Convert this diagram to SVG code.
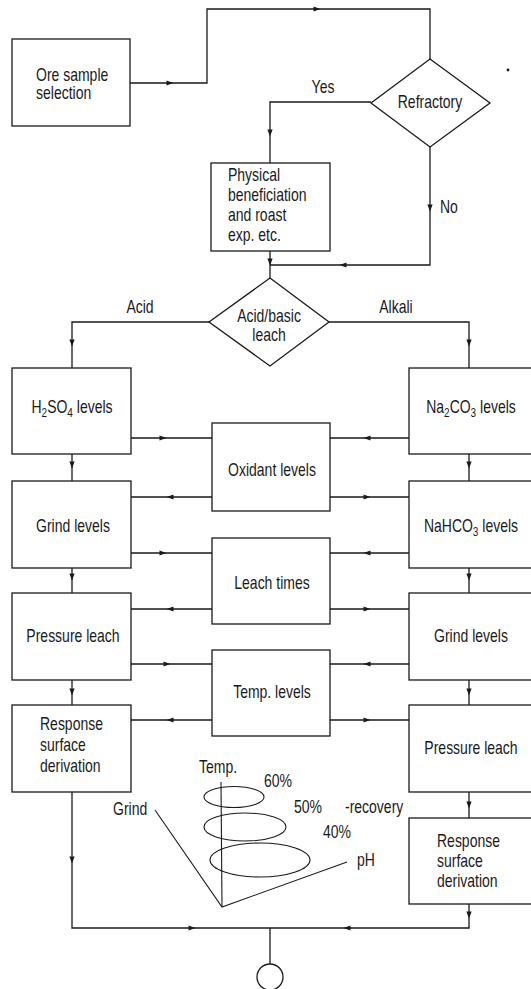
<svg xmlns="http://www.w3.org/2000/svg" xmlns:xlink="http://www.w3.org/1999/xlink" width="531" height="989" viewBox="0 0 531 989">
  <style>
    .box { fill: #fff; stroke: #1a1a1a; stroke-width: 1.3; }
    .ln { fill: none; stroke: #1a1a1a; stroke-width: 1.3; }
    .thin { fill: none; stroke: #1a1a1a; stroke-width: 1.1; }
    text { font-family: "Liberation Sans", Arial, sans-serif; font-size: 17.5px; fill: #1a1a1a; }
    .c { text-anchor: middle; }
    .sub { font-size: 12.5px; }
  </style>
  <defs>
    <!-- small filled arrowhead, pointing along +x -->
    <polygon id="ah" points="3.5,0 -3.5,-2.6 -3.5,2.6" fill="#1a1a1a"/>
  </defs>

  <rect width="531" height="989" fill="#fff"/>

  <!-- connectors (labels are set in a condensed face: scale .8 horizontally) -->
  <g id="connectors">
    <path class="ln" d="M130,83 H207 V9 H430 V59"/>
    <path class="ln" d="M371,102 H270 V163"/>
    <path class="ln" d="M430,147 V265 H270"/>
    <path class="ln" d="M270,251 V278"/>
    <path class="ln" d="M209,322 H72 V368"/>
    <path class="ln" d="M328,322 H469 V368"/>
    <path class="ln" d="M72,454 V481"/>
    <path class="ln" d="M469,454 V481"/>
    <path class="ln" d="M72,568 V593"/>
    <path class="ln" d="M469,568 V593"/>
    <path class="ln" d="M72,680 V705"/>
    <path class="ln" d="M469,680 V705"/>
    <path class="ln" d="M469,792 V818"/>
    <path class="ln" d="M72,792 V928 H469 V904"/>
    <path class="ln" d="M270,928 V964"/>
    <!-- cross links between the side columns and the centre boxes -->
    <path class="ln" d="M131,438 H212 M330,438 H409"/>
    <path class="ln" d="M131,497 H212 M330,497 H409"/>
    <path class="ln" d="M131,553 H212 M330,553 H409"/>
    <path class="ln" d="M131,609 H212 M330,609 H409"/>
    <path class="ln" d="M131,664 H212 M330,664 H409"/>
    <path class="ln" d="M131,720 H212 M330,720 H409"/>

    <!-- arrowheads -->
    <use xlink:href="#ah" transform="translate(170,83)"/>
    <use xlink:href="#ah" transform="translate(317,9)"/>
    <use xlink:href="#ah" transform="translate(270,133) rotate(90)"/>
    <use xlink:href="#ah" transform="translate(430,208) rotate(90)"/>
    <use xlink:href="#ah" transform="translate(343,265) rotate(180)"/>
    <use xlink:href="#ah" transform="translate(270,262) rotate(90)"/>
    <use xlink:href="#ah" transform="translate(72,343) rotate(90)"/>
    <use xlink:href="#ah" transform="translate(469,343) rotate(90)"/>
    <use xlink:href="#ah" transform="translate(72,465) rotate(90)"/>
    <use xlink:href="#ah" transform="translate(469,465) rotate(90)"/>
    <use xlink:href="#ah" transform="translate(72,577) rotate(90)"/>
    <use xlink:href="#ah" transform="translate(469,577) rotate(90)"/>
    <use xlink:href="#ah" transform="translate(72,692) rotate(90)"/>
    <use xlink:href="#ah" transform="translate(469,692) rotate(90)"/>
    <use xlink:href="#ah" transform="translate(469,805) rotate(90)"/>
    <use xlink:href="#ah" transform="translate(469,915) rotate(90)"/>
    <use xlink:href="#ah" transform="translate(72,860) rotate(90)"/>
    <use xlink:href="#ah" transform="translate(192,928)"/>
    <use xlink:href="#ah" transform="translate(347,928) rotate(180)"/>

    <use xlink:href="#ah" transform="translate(163,438)"/>
    <use xlink:href="#ah" transform="translate(367,438) rotate(180)"/>
    <use xlink:href="#ah" transform="translate(170,497) rotate(180)"/>
    <use xlink:href="#ah" transform="translate(367,497)"/>
    <use xlink:href="#ah" transform="translate(163,553)"/>
    <use xlink:href="#ah" transform="translate(367,553) rotate(180)"/>
    <use xlink:href="#ah" transform="translate(170,609) rotate(180)"/>
    <use xlink:href="#ah" transform="translate(367,609)"/>
    <use xlink:href="#ah" transform="translate(167,664)"/>
    <use xlink:href="#ah" transform="translate(367,664) rotate(180)"/>
    <use xlink:href="#ah" transform="translate(170,720) rotate(180)"/>
    <use xlink:href="#ah" transform="translate(367,720)"/>

    <text transform="translate(323,93) scale(.8,1)" class="c">Yes</text>
    <text transform="translate(440,213) scale(.8,1)">No</text>
    <text transform="translate(140,313) scale(.8,1)" class="c">Acid</text>
    <text transform="translate(396,313) scale(.8,1)" class="c">Alkali</text>
  </g>

  <g id="ore-sample">
    <rect class="box" x="12" y="39" width="118" height="87"/>
    <text transform="translate(36,81) scale(.8,1)">Ore sample</text>
    <text transform="translate(36,99) scale(.8,1)">selection</text>
  </g>

  <g id="refractory">
    <polygon class="box" points="430,59 490,103 430,147 371,103"/>
    <text transform="translate(430,108) scale(.8,1)" class="c">Refractory</text>
  </g>
  <circle cx="508" cy="70" r="1.4" fill="#1a1a1a"/>

  <g id="physical">
    <rect class="box" x="211" y="163" width="119" height="88"/>
    <text transform="translate(228,181) scale(.8,1)">Physical</text>
    <text transform="translate(228,201) scale(.8,1)">beneficiation</text>
    <text transform="translate(228,221) scale(.8,1)">and roast</text>
    <text transform="translate(228,241) scale(.8,1)">exp. etc.</text>
  </g>

  <g id="acid-basic">
    <polygon class="box" points="270,278 329,322 270,366 209,322"/>
    <text transform="translate(269,322) scale(.8,1)" class="c">Acid/basic</text>
    <text transform="translate(269,341) scale(.8,1)" class="c">leach</text>
  </g>

  <!-- acid column -->
  <g id="h2so4">
    <rect class="box" x="12" y="368" width="119" height="86"/>
    <text transform="translate(72,413) scale(.8,1)" class="c">H<tspan class="sub" dy="4">2</tspan><tspan dy="-4">SO</tspan><tspan class="sub" dy="4">4</tspan><tspan dy="-4"> levels</tspan></text>
  </g>
  <g id="grind-acid">
    <rect class="box" x="12" y="481" width="119" height="87"/>
    <text transform="translate(73,532) scale(.8,1)" class="c">Grind levels</text>
  </g>
  <g id="pressure-acid">
    <rect class="box" x="12" y="593" width="119" height="87"/>
    <text transform="translate(73,642) scale(.8,1)" class="c">Pressure leach</text>
  </g>
  <g id="response-acid">
    <rect class="box" x="12" y="705" width="119" height="87"/>
    <text transform="translate(40,730) scale(.8,1)">Response</text>
    <text transform="translate(40,751) scale(.8,1)">surface</text>
    <text transform="translate(40,772) scale(.8,1)">derivation</text>
  </g>

  <!-- centre column -->
  <g id="oxidant">
    <rect class="box" x="212" y="423" width="118" height="88"/>
    <text transform="translate(272,476) scale(.8,1)" class="c">Oxidant levels</text>
  </g>
  <g id="leach-times">
    <rect class="box" x="212" y="538" width="118" height="86"/>
    <text transform="translate(272,589) scale(.8,1)" class="c">Leach times</text>
  </g>
  <g id="temp-levels">
    <rect class="box" x="212" y="650" width="118" height="86"/>
    <text transform="translate(272,698) scale(.8,1)" class="c">Temp. levels</text>
  </g>

  <!-- alkali column -->
  <g id="na2co3">
    <rect class="box" x="409" y="368" width="130" height="86"/>
    <text transform="translate(471,413) scale(.8,1)" class="c">Na<tspan class="sub" dy="4">2</tspan><tspan dy="-4">CO</tspan><tspan class="sub" dy="4">3</tspan><tspan dy="-4"> levels</tspan></text>
  </g>
  <g id="nahco3">
    <rect class="box" x="409" y="481" width="130" height="87"/>
    <text transform="translate(471,532) scale(.8,1)" class="c">NaHCO<tspan class="sub" dy="4">3</tspan><tspan dy="-4"> levels</tspan></text>
  </g>
  <g id="grind-alkali">
    <rect class="box" x="409" y="593" width="130" height="87"/>
    <text transform="translate(471,642) scale(.8,1)" class="c">Grind levels</text>
  </g>
  <g id="pressure-alkali">
    <rect class="box" x="409" y="705" width="130" height="87"/>
    <text transform="translate(471,754) scale(.8,1)" class="c">Pressure leach</text>
  </g>
  <g id="response-alkali">
    <rect class="box" x="409" y="818" width="130" height="86"/>
    <text transform="translate(437,847) scale(.8,1)">Response</text>
    <text transform="translate(437,867) scale(.8,1)">surface</text>
    <text transform="translate(437,887) scale(.8,1)">derivation</text>
  </g>

  <g id="end">
    <circle class="box" cx="270" cy="977" r="13"/>
  </g>

  <!-- response surface sketch -->
  <g id="response-sketch">
    <path class="thin" d="M155,810 L222,907 L347,862"/>
    <path class="thin" d="M222,907 L221,782"/>
    <ellipse class="thin" cx="234" cy="797" rx="30" ry="10.5"/>
    <ellipse class="thin" cx="245" cy="827" rx="41" ry="14"/>
    <ellipse class="thin" cx="260" cy="860" rx="50" ry="17"/>
    <text transform="translate(199,773) scale(.8,1)">Temp.</text>
    <text transform="translate(264,787) scale(.8,1)">60%</text>
    <text transform="translate(113,815) scale(.8,1)">Grind</text>
    <text transform="translate(294,813) scale(.8,1)">50%</text>
    <text transform="translate(345,813) scale(.8,1)">-recovery</text>
    <text transform="translate(323,838) scale(.8,1)">40%</text>
    <text transform="translate(357,866) scale(.8,1)">pH</text>
  </g>
</svg>
